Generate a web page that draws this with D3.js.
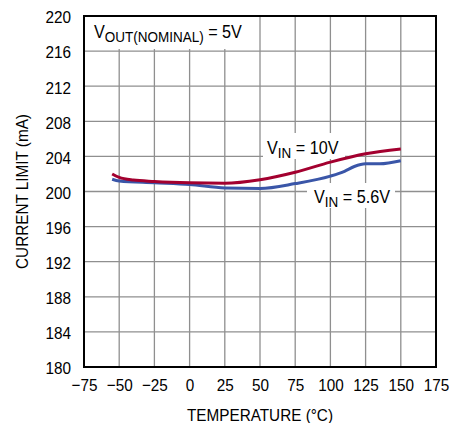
<!DOCTYPE html>
<html>
<head>
<meta charset="utf-8">
<script src="https://cdn.jsdelivr.net/npm/d3@7"></script>
<style>
  html, body { margin: 0; padding: 0; background: #fff; }
  svg { display: block; font-family: "Liberation Sans", Arial, sans-serif; }
</style>
</head>
<body>
<svg id="chart" width="458" height="423"></svg>
<script>
// ---- data ----
const xTicks = [-75, -50, -25, 0, 25, 50, 75, 100, 125, 150, 175];
const yTicks = [180, 184, 188, 192, 196, 200, 204, 208, 212, 216, 220];

const tempVin10 = [-55, -50, -40, -25, 0, 25, 50, 75, 100, 125, 150];
const currVin10 = [202.0, 201.6, 201.3, 201.15, 201.0, 200.95, 201.35, 202.2, 203.35, 204.3, 204.85];

const tempVin56 = [-55, -50, -25, 0, 25, 50, 75, 100, 110, 117, 125, 135, 150];
const currVin56 = [201.4, 201.2, 201.0, 200.8, 200.4, 200.35, 200.9, 201.75, 202.3, 202.85, 203.15, 203.15, 203.5];

const xTitle = "TEMPERATURE (°C)";
const yTitle = "CURRENT LIMIT (mA)";

// ---- layout ----
const L = 84, R = 436, T = 16, B = 367;
const svg = d3.select("#chart");
const x = d3.scaleLinear().domain([-75, 175]).range([L, R]);
const y = d3.scaleLinear().domain([180, 220]).range([B, T]);
const SX = 0.9;

// grid
const grid = svg.append("g").attr("stroke", "#8f8f8f").attr("stroke-width", 1.3);
grid.selectAll("line.v").data(xTicks.slice(1, -1)).join("line")
  .attr("x1", d => x(d)).attr("x2", d => x(d)).attr("y1", T).attr("y2", B);
grid.selectAll("line.h").data(yTicks.slice(1, -1)).join("line")
  .attr("y1", d => y(d)).attr("y2", d => y(d)).attr("x1", L).attr("x2", R);

// label backgrounds
const boxes = [
  [L, T, 250 - L, 49 - T],
  [263, 133, 82, 26],
  [307, 183, 88, 25]
];
svg.append("g").selectAll("rect").data(boxes).join("rect")
  .attr("x", d => d[0]).attr("y", d => d[1]).attr("width", d => d[2]).attr("height", d => d[3])
  .attr("fill", "#fff");

// lines
const line = d3.line().curve(d3.curveMonotoneX).x(d => x(d[0])).y(d => y(d[1]));
svg.append("path").datum(d3.zip(tempVin56, currVin56)).attr("d", line)
  .attr("fill", "none").attr("stroke", "#3a56a8").attr("stroke-width", 3);
svg.append("path").datum(d3.zip(tempVin10, currVin10)).attr("d", line)
  .attr("fill", "none").attr("stroke", "#a3002f").attr("stroke-width", 3);

// frame
svg.append("rect").attr("x", L).attr("y", T).attr("width", R - L).attr("height", B - T)
  .attr("fill", "none").attr("stroke", "#000").attr("stroke-width", 2);

// axes
const xAxis = svg.append("g").attr("transform", `translate(0,${B})`)
  .call(d3.axisBottom(x).tickValues(xTicks).tickSize(0).tickPadding(0)
    .tickFormat(d => (d < 0 ? "\u2212" + Math.abs(d) : String(d))));
xAxis.select(".domain").remove();
xAxis.selectAll("text").attr("y", 24.5).attr("dy", null)
  .attr("transform", `scale(${SX},1)`)
  .attr("fill", "#000").style("font-size", "17px").style("font-family", "Liberation Sans, Arial, sans-serif");

const yAxis = svg.append("g").attr("transform", `translate(${L},0)`)
  .call(d3.axisLeft(y).tickValues(yTicks).tickSize(0).tickPadding(0));
yAxis.select(".domain").remove();
yAxis.selectAll("text").attr("x", -13 / SX).attr("dy", "0.4em")
  .attr("transform", `scale(${SX},1)`)
  .attr("fill", "#000").style("font-size", "17px").style("font-family", "Liberation Sans, Arial, sans-serif");

// titles
svg.append("text").attr("transform", `translate(${(L + R) / 2},420.5) scale(${SX},1)`)
  .attr("text-anchor", "middle").style("font-size", "17px").text(xTitle);
svg.append("text").attr("transform", `translate(28,${(T + B) / 2}) rotate(-90) scale(${SX},1)`)
  .attr("text-anchor", "middle").style("font-size", "17px").text(yTitle);

// annotations
function label(px, py, main, sub, rest) {
  const t = svg.append("text").attr("transform", `translate(${px},${py}) scale(${SX},1)`)
    .style("font-size", "18px").attr("fill", "#000");
  t.append("tspan").text(main);
  t.append("tspan").attr("dy", 4).style("font-size", "15px").text(sub);
  t.append("tspan").attr("dy", -4).text(rest);
}
label(94, 38, "V", "OUT(NOMINAL)", " = 5V");
label(267, 153.5, "V", "IN", " = 10V");
label(314, 202.7, "V", "IN", " = 5.6V");
</script>
</body>
</html>
